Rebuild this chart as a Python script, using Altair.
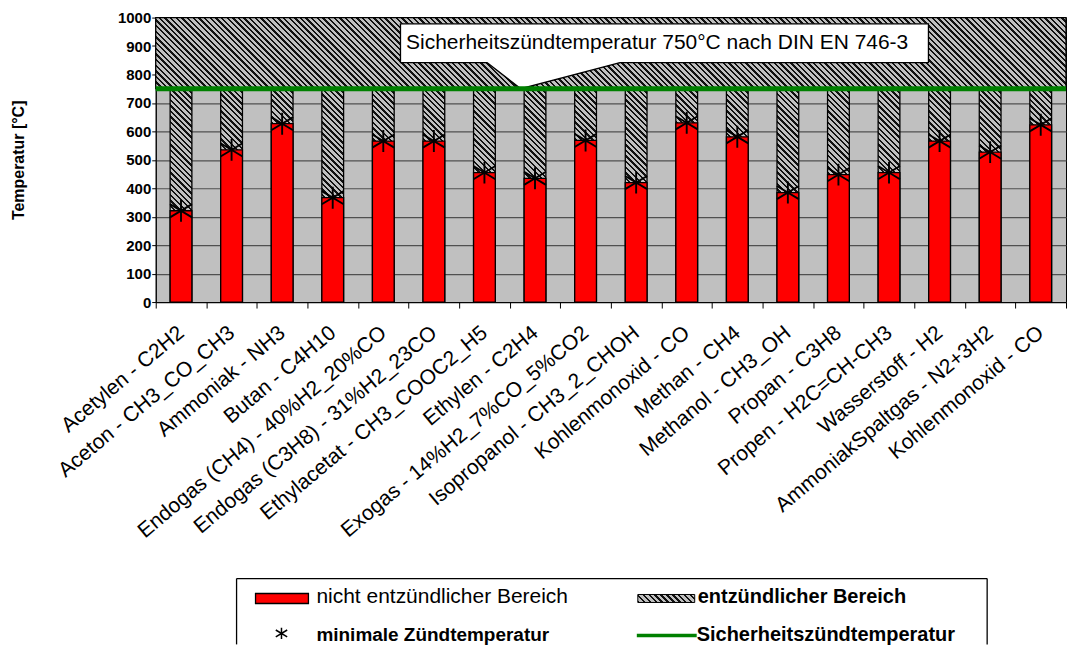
import json
import altair as alt
import pandas as pd

# ---------------- data ----------------
names = [
    "Acetylen - C2H2",
    "Aceton - CH3_CO_CH3",
    "Ammoniak - NH3",
    "Butan - C4H10",
    "Endogas (CH4) - 40%H2_20%CO",
    "Endogas (C3H8) - 31%H2_23CO",
    "Ethylacetat - CH3_COOC2_H5",
    "Ethylen - C2H4",
    "Exogas - 14%H2_7%CO_5%CO2",
    "Isopropanol - CH3_2_CHOH",
    "Kohlenmonoxid - CO",
    "Methan - CH4",
    "Methanol - CH3_OH",
    "Propan - C3H8",
    "Propen - H2C=CH-CH3",
    "Wasserstoff - H2",
    "AmmoniakSpaltgas - N2+3H2",
    "Kohlenmonoxid - CO",
]
min_temp = [321, 535, 627, 367, 566, 566, 455, 435, 568, 420, 630, 581, 385, 448, 455, 566, 527, 623]
SAFETY_T = 750
Y_MAX = 1000
y_ticks = list(range(0, 1001, 100))

y_title = "Temperatur [°C]"
callout_text = "Sicherheitszündtemperatur 750°C nach DIN EN 746-3"
legend_labels = [
    "nicht entzündlicher Bereich",
    "entzündlicher Bereich",
    "minimale Zündtemperatur",
    "Sicherheitszündtemperatur",
]

# callout placement (category-index units on x, temperature on y)
CALLOUT_X = (4.84, 15.28)
CALLOUT_Y = (842, 978)
POINTER_X = [6.55, 7.22, 9.18]
POINTER_Y = [842, 750, 842]
TEXT_POS = (4.95, 911)

# ---------------- style ----------------
W = 912
H = 285
BAR_FRAC = 0.43
FONT = "Liberation Sans, Arial, Helvetica, sans-serif"
GRAY = "#c0c0c0"
STAR = "M0,-1L0,1M-1,-0.6L1,0.6M-1,0.6L1,-0.6"
n = len(names)


def hatch(w, h, period=4.0, dark_frac=0.42, dark="#111111", light=GRAY):
    m = max(1, round((w + h) / (2 ** 0.5 * period)))
    k = (w + h) / (w * w + h * h)
    stops = []
    for j in range(m):
        a = round(j / m, 6)
        b = round((j + dark_frac) / m, 6)
        c = round((j + 1) / m, 6)
        stops += [
            {"offset": a, "color": dark},
            {"offset": b, "color": dark},
            {"offset": b, "color": light},
            {"offset": c, "color": light},
        ]
    return {"gradient": "linear", "stops": stops,
            "x1": 0, "y1": 1, "x2": k * w, "y2": 1 - k * h}


df = pd.DataFrame({"idx": list(range(n)), "name": names, "t": min_temp,
                   "safe": [SAFETY_T] * n})

yscale = alt.Scale(domain=[0, Y_MAX], nice=False)
yaxis = alt.Axis(values=y_ticks, format="d", title=y_title, titleFont=FONT, titleFontSize=16,
                 titleFontWeight="bold", titleColor="black", titleAngle=-90,
                 titleX=-137, titleY=H / 2, titleAlign="center", titleBaseline="middle",
                 labelFont=FONT, labelFontSize=15, labelFontWeight="bold",
                 labelColor="black", labelPadding=1, tickSize=4, tickColor="black",
                 domainColor="black", gridColor="#505050", gridWidth=1.2, gridOpacity=1)

names_js = json.dumps(names, ensure_ascii=False)
xaxis = alt.Axis(title=None, labelExpr=f"{names_js}[datum.value]", tickBand="extent",
                 labelAngle=-40, labelAlign="right", labelBaseline="middle",
                 labelPadding=22, tickSize=6, tickColor="black", domainColor="black",
                 labelFont=FONT, labelFontSize=21, labelColor="black", labelLimit=500,
                 labelOverlap=False, grid=False)
xscale = alt.Scale(paddingInner=0, paddingOuter=0)

bar_w = W / n * BAR_FRAC
base = alt.Chart(df)
hatched = base.mark_bar(width={"band": BAR_FRAC}, fill=hatch(bar_w, H * SAFETY_T / Y_MAX),
                        stroke="black", strokeWidth=1.3).encode(
    x=alt.X("idx:O", scale=xscale, axis=xaxis),
    y=alt.Y("safe:Q", scale=yscale, axis=yaxis),
)
red = base.mark_bar(width={"band": BAR_FRAC}, fill="#ff0000", stroke="black",
                    strokeWidth=1.3).encode(
    x=alt.X("idx:O", scale=xscale, axis=xaxis),
    y=alt.Y("t:Q", scale=yscale, axis=yaxis),
)
stars = base.mark_point(shape=STAR, size=484, filled=False, stroke="black",
                        strokeWidth=1.9, opacity=1).encode(
    x=alt.X("idx:O", scale=xscale, axis=xaxis),
    y=alt.Y("t:Q", scale=yscale, axis=yaxis),
)
bars = alt.layer(hatched, red, stars)

band_df = pd.DataFrame({"lo": [SAFETY_T], "hi": [Y_MAX]})
top_band = alt.Chart(band_df).mark_rect(
    fill=hatch(W, H * (Y_MAX - SAFETY_T) / Y_MAX), stroke="black", strokeWidth=1.3
).encode(y=alt.Y("lo:Q", scale=yscale, axis=yaxis), y2="hi:Q")

cx = alt.Scale(domain=[0, n], nice=False, zero=False)
box_df = pd.DataFrame({"x": [CALLOUT_X[0]], "x2": [CALLOUT_X[1]],
                       "y": [CALLOUT_Y[0]], "y2": [CALLOUT_Y[1]]})
box = alt.Chart(box_df).mark_rect(fill="white", stroke="black", strokeWidth=1.3).encode(
    x=alt.X("x:Q", scale=cx, axis=None), x2="x2:Q",
    y=alt.Y("y:Q", scale=yscale, axis=yaxis), y2="y2:Q")
ptr_df = pd.DataFrame({"x": POINTER_X, "yb": POINTER_Y,
                       "yt": [CALLOUT_Y[0] + 5] * len(POINTER_X)})
cover = alt.Chart(ptr_df).mark_area(fill="white", opacity=1).encode(
    x=alt.X("x:Q", scale=cx, axis=None),
    y=alt.Y("yt:Q", scale=yscale, axis=yaxis), y2="yb:Q")
ptr = alt.Chart(ptr_df).mark_line(color="black", strokeWidth=1.3).encode(
    x=alt.X("x:Q", scale=cx, axis=None),
    y=alt.Y("yb:Q", scale=yscale, axis=yaxis))
txt_df = pd.DataFrame({"x": [TEXT_POS[0]], "y": [TEXT_POS[1]], "label": [callout_text]})
ctext = alt.Chart(txt_df).mark_text(align="left", baseline="middle", font=FONT,
                                    fontSize=21, color="black").encode(
    x=alt.X("x:Q", scale=cx, axis=None),
    y=alt.Y("y:Q", scale=yscale, axis=yaxis), text="label:N")
callout = alt.layer(box, cover, ptr, ctext)

rule_df = pd.DataFrame({"s": [SAFETY_T]})
green = alt.Chart(rule_df).mark_rule(color="#008000", strokeWidth=5).encode(
    y=alt.Y("s:Q", scale=yscale, axis=yaxis))

main = alt.layer(bars, top_band, callout, green).resolve_scale(x="independent").properties(
    width=W, height=H, view=alt.ViewBackground(fill=GRAY, stroke="black", strokeWidth=1))

# ---------------- legend ----------------
LH = 66


def one(i):
    return alt.Chart(pd.DataFrame({"label": [legend_labels[i]]}))


leg_layers = [
    one(0).mark_rule(color="black", strokeWidth=1.3).encode(
        x=alt.value(81), x2=alt.value(833), y=alt.value(0)),
    one(0).mark_rule(color="black", strokeWidth=1.3).encode(
        x=alt.value(81), y=alt.value(0), y2=alt.value(LH)),
    one(0).mark_rule(color="black", strokeWidth=1.3).encode(
        x=alt.value(833), y=alt.value(0), y2=alt.value(LH)),
    one(0).mark_rect(fill="#ff0000", stroke="black", strokeWidth=1.3).encode(
        x=alt.value(100), x2=alt.value(153), y=alt.value(15), y2=alt.value(25)),
    one(0).mark_text(align="left", baseline="middle", font=FONT, fontSize=21,
                     color="black").encode(x=alt.value(161), y=alt.value(19), text="label:N"),
    one(1).mark_rect(fill=hatch(57, 8), stroke="black", strokeWidth=1).encode(
        x=alt.value(483), x2=alt.value(540), y=alt.value(16), y2=alt.value(24)),
    one(1).mark_text(align="left", baseline="middle", font=FONT, fontSize=20,
                     fontWeight="bold", color="black").encode(
        x=alt.value(543), y=alt.value(19), text="label:N"),
    one(2).mark_point(shape=STAR, size=130, filled=False, stroke="black",
                      strokeWidth=1.5, opacity=1).encode(x=alt.value(126), y=alt.value(55)),
    one(2).mark_text(align="left", baseline="middle", font=FONT, fontSize=19,
                     fontWeight="bold", color="black").encode(
        x=alt.value(161), y=alt.value(57), text="label:N"),
    one(3).mark_rule(color="#008000", strokeWidth=3.5).encode(
        x=alt.value(482), x2=alt.value(542), y=alt.value(57)),
    one(3).mark_text(align="left", baseline="middle", font=FONT, fontSize=20,
                     fontWeight="bold", color="black").encode(
        x=alt.value(542), y=alt.value(57), text="label:N"),
]
legend = alt.layer(*leg_layers).properties(
    width=W, height=LH, view=alt.ViewBackground(fill="white", stroke="transparent"))

chart = alt.vconcat(main, legend, spacing=34).properties(
    padding={"left": 2, "top": 1, "right": 0, "bottom": 0}, background="white")

chart.save("out.html", embed_options={"renderer": "svg", "actions": False})
